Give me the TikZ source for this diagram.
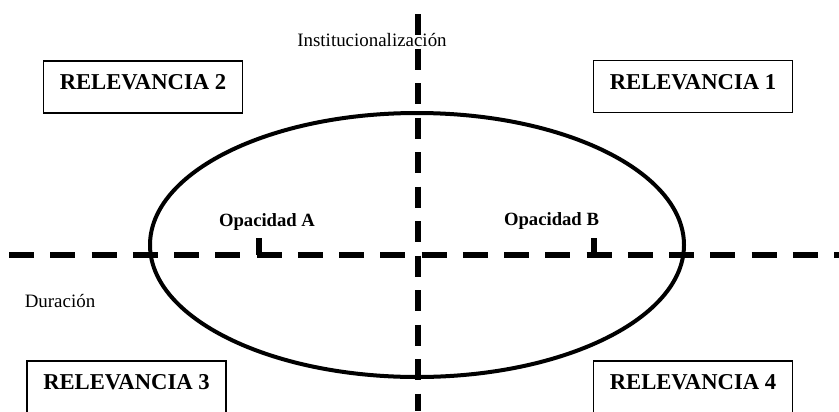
\documentclass[tikz,border=0pt]{standalone}
\usepackage{fontspec}
\setmainfont{Liberation Serif}
\begin{document}
\begin{tikzpicture}[x=0.75pt,y=-0.75pt,
	eje/.style={line width=4.5pt},
	ejeh/.style={eje,dash pattern=on 18.75pt off 12.19pt},
	ejev/.style={eje,dash pattern=on 15.75pt off 10.125pt},
	rel/.style={draw,line width=1.1pt,font=\fontsize{17}{20}\selectfont\bfseries,minimum width=149.5pt,minimum height=39pt,text depth=7.5pt},
	etq/.style={font=\fontsize{14.2}{17}\selectfont},
	opac/.style={font=\fontsize{14}{17}\selectfont\bfseries}]
	\useasboundingbox (0,0) rectangle (839,411);
	\clip (0,0) rectangle (839,411);
	% ejes
	\coordinate (hl) at (9,255);
	\coordinate (hr) at (839,255);
	\coordinate (vt) at (417.5,14);
	\coordinate (vb) at (417.5,411);
	\coordinate (c) at (417,245);
	\draw[line width=3pt] (c) ellipse [x radius=267, y radius=132];
	\draw[ejeh] (hl) -- (hr);
	\draw[ejev] (vt) -- (vb);
	% marcas de opacidad
	\coordinate (tickA) at (258.5,238);
	\coordinate (tickB) at (593.5,238);
	\draw[eje] (tickA) -- (tickA |- hl);
	\draw[eje] (tickB) -- (tickB |- hl);
	% textos
	\node[etq] (inst) at (372,40) {Institucionalización};
	\node[etq] (dur) at (60,301) {Duración};
	\node[opac] (opA) at (267,222) {Opacidad A};
	\node[opac] (opB) at (551.5,221) {Opacidad B};
	% cuadrantes
	\node[rel] (rel2) at (143,87) {RELEVANCIA 2};
	\node[rel] (rel1) at (693,86.5) {RELEVANCIA 1};
	\node[rel] (rel3) at (126.5,387) {RELEVANCIA 3};
	\node[rel] (rel4) at (693,387) {RELEVANCIA 4};
\end{tikzpicture}
\end{document}
